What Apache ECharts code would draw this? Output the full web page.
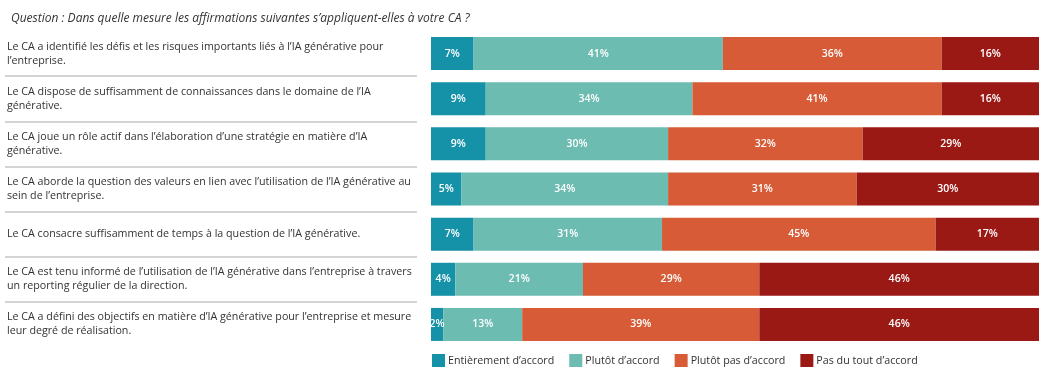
<!DOCTYPE html>
<html>
<head>
<meta charset="utf-8">
<script src="https://cdn.jsdelivr.net/npm/echarts@6/dist/echarts.min.js"></script>
<style>html,body{margin:0;padding:0;background:#fff;}#c{width:1043px;height:383px;}</style>
</head>
<body>
<div id="c"></div>
<script>
const titleText = "Question : Dans quelle mesure les affirmations suivantes s\u2019appliquent-elles à votre CA ?";
const categories = [
  "Le CA a identifié les défis et les risques importants liés à l\u2019IA générative pour\nl\u2019entreprise.",
  "Le CA dispose de suffisamment de connaissances dans le domaine de l\u2019IA\ngénérative.",
  "Le CA joue un rôle actif dans l\u2019élaboration d\u2019une stratégie en matière d\u2019IA\ngénérative.",
  "Le CA aborde la question des valeurs en lien avec l\u2019utilisation de l\u2019IA générative au\nsein de l\u2019entreprise.",
  "Le CA consacre suffisamment de temps à la question de l\u2019IA générative.",
  "Le CA est tenu informé de l\u2019utilisation de l\u2019IA générative dans l\u2019entreprise à travers\nun reporting régulier de la direction.",
  "Le CA a défini des objectifs en matière d\u2019IA générative pour l\u2019entreprise et mesure\nleur degré de réalisation."
];
const seriesNames = ["Entièrement d\u2019accord", "Plutôt d\u2019accord", "Plutôt pas d\u2019accord", "Pas du tout d\u2019accord"];
const entierement = [7, 9, 9, 5, 7, 4, 2];
const plutot = [41, 34, 30, 34, 31, 21, 13];
const plutotPas = [36, 41, 32, 31, 45, 29, 39];
const pasDuTout = [16, 16, 29, 30, 17, 46, 46];
const colors = ["#1591a8", "#6cbcb1", "#d65b36", "#9a1915"];

const values = [entierement, plutot, plutotPas, pasDuTout];
const font = "'Open Sans', sans-serif";
const chart = echarts.init(document.getElementById('c'));
chart.setOption({
  animation: false,
  color: colors,
  title: {
    text: titleText, left: 6, top: 8,
    textStyle: { fontFamily: font, fontSize: 12, fontStyle: 'italic', fontWeight: 'normal', color: '#333' }
  },
  legend: {
    data: seriesNames, left: 427, top: 349,
    itemWidth: 13, itemHeight: 13, itemGap: 15, icon: 'rect',
    textStyle: { fontFamily: font, fontSize: 10.7, color: '#333', padding: [0, 0, 0, -2] }
  },
  grid: [
    { left: 431, right: 4, top: 31, height: 316 },
    { left: 5, width: 412, top: 31, height: 316 }
  ],
  xAxis: [
    { type: 'value', min: 0, max: 100, show: false, gridIndex: 0 },
    { type: 'value', min: 0, max: 100, show: false, gridIndex: 1 }
  ],
  yAxis: [
    {
      type: 'category', data: categories, inverse: true, gridIndex: 0,
      axisLine: { show: false }, axisTick: { show: false }, splitLine: { show: false },
      axisLabel: { align: 'left', margin: 424, fontFamily: font, fontSize: 10.7, lineHeight: 14, color: '#333' }
    },
    {
      type: 'category', data: categories, inverse: true, gridIndex: 1,
      axisLine: { show: false }, axisTick: { show: false }, axisLabel: { show: false },
      splitLine: { show: true, showMinLine: false, showMaxLine: false, lineStyle: { color: '#c6c6c6', width: 1.5 } }
    }
  ],
  series: seriesNames.map((name, i) => ({
    name, type: 'bar', stack: 'total', xAxisIndex: 0, yAxisIndex: 0,
    data: values[i], barWidth: 33,
    itemStyle: { color: colors[i] },
    label: {
      show: true, position: 'inside', formatter: '{c}%',
      color: '#fff', fontFamily: font, fontSize: 10.5, fontWeight: 600
    }
  }))
});
</script>
</body>
</html>
